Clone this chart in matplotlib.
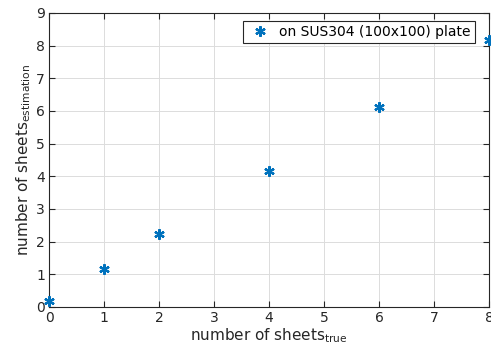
import matplotlib
matplotlib.use('Agg')
import matplotlib.pyplot as plt

plt.rcParams['font.family'] = ['DejaVu Sans']
plt.rcParams['mathtext.fontset'] = 'dejavusans'

# data
n_true = [0, 1, 2, 4, 6, 8]
n_est = [0.18, 1.16, 2.25, 4.16, 6.12, 8.17]
x_ticks = [0, 1, 2, 3, 4, 5, 6, 7, 8]
y_ticks = [0, 1, 2, 3, 4, 5, 6, 7, 8, 9]

fig = plt.figure(figsize=(4.91, 3.51), dpi=100)
ax = fig.add_axes([49/491, 44/351, 440/491, 294/351])

ax.plot(n_true, n_est, linestyle='none', marker=(6, 2, 0), markersize=7.5,
        markeredgewidth=1.6, color='#0072BD', clip_on=False, zorder=5,
        label='on SUS304 (100x100) plate')

ax.set_xlim(0, 8)
ax.set_ylim(0, 9)
ax.set_xticks(x_ticks)
ax.set_yticks(y_ticks)
ax.grid(True, color='#dcdcdc', linewidth=0.7)
ax.tick_params(direction='in', top=True, right=True, length=4, labelsize=10,
               colors='#262626', pad=3)
for s in ax.spines.values():
    s.set_color('#262626')
    s.set_linewidth(0.8)

ax.set_xlabel(r'number of sheets$_{\mathrm{true}}$', fontsize=11, color='#262626', labelpad=1)
ax.set_ylabel(r'number of sheets$_{\mathrm{estimation}}$', fontsize=11, color='#262626', labelpad=2)

leg = ax.legend(loc='upper right', fontsize=10, fancybox=False, framealpha=1,
                edgecolor='#262626', borderpad=0.3, handletextpad=0.5,
                handlelength=1.8, borderaxespad=0, bbox_to_anchor=(0.968, 0.973))
leg.get_frame().set_linewidth(0.8)

fig.savefig('out.png', dpi=100)
